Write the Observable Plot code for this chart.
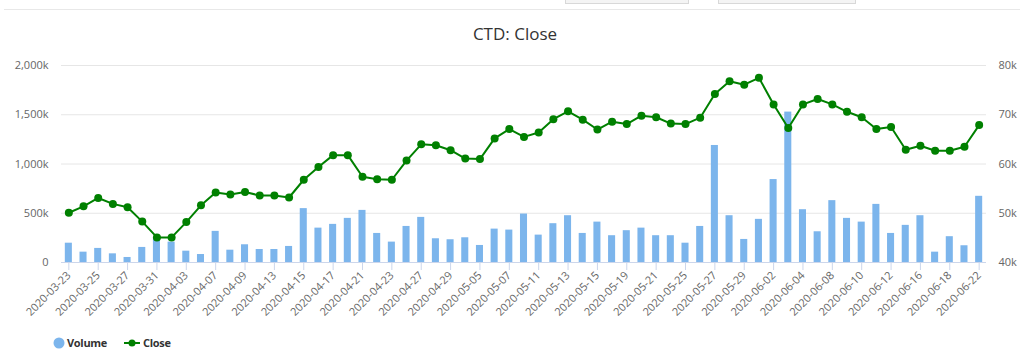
<!DOCTYPE html>
<html>
<head>
<meta charset="utf-8">
<script src="https://cdn.jsdelivr.net/npm/d3@7"></script>
<script src="https://cdn.jsdelivr.net/npm/@observablehq/plot@0.6"></script>
<style>
  html, body { margin: 0; padding: 0; background: #fff; }
  #wrap { position: relative; width: 1024px; height: 352px; overflow: hidden; font-family: "Open Sans", sans-serif; }
  #wrap > svg { position: absolute; left: 0; top: 0; }
  .topline { position: absolute; left: 4px; top: 9px; width: 1016px; height: 1px; background: #e8e8e8; }
  .btn { position: absolute; top: -2px; height: 4px; border: 1px solid #d8d8d8; background: #f4f4f4; }
  #title { position: absolute; left: 0; width: 1030px; top: 22px; text-align: center; font-size: 17px; color: #333; }
  .leg { position: absolute; top: 335px; font-size: 11px; font-weight: bold; color: #333; letter-spacing: -0.3px; line-height: 16px; }
  .legsym { position: absolute; left: 0; top: 335px; }
</style>
</head>
<body>
<div id="wrap">
  <div class="topline"></div>
  <div class="btn" style="left:565px;width:122px"></div>
  <div class="btn" style="left:718px;width:136px"></div>
  <div id="title">CTD: Close</div>
  <svg class="legsym" width="160" height="16" style="position:absolute;left:0;top:335px">
    <circle cx="59" cy="8" r="5.5" fill="#7cb5ec"/>
    <line x1="124" x2="140" y1="8" y2="8" stroke="#008000" stroke-width="2"/>
    <circle cx="132" cy="8" r="3.5" fill="#008000"/>
  </svg>
  <span class="leg" style="left:67px">Volume</span>
  <span class="leg" style="left:143px">Close</span>
</div>
<script>
const dates = [
  "2020-03-23","2020-03-24","2020-03-25","2020-03-26","2020-03-27","2020-03-30","2020-03-31",
  "2020-04-01","2020-04-03","2020-04-06","2020-04-07","2020-04-08","2020-04-09","2020-04-10",
  "2020-04-13","2020-04-14","2020-04-15","2020-04-16","2020-04-17","2020-04-20","2020-04-21",
  "2020-04-22","2020-04-23","2020-04-24","2020-04-27","2020-04-28","2020-04-29","2020-05-04",
  "2020-05-05","2020-05-06","2020-05-07","2020-05-08","2020-05-11","2020-05-12","2020-05-13",
  "2020-05-14","2020-05-15","2020-05-18","2020-05-19","2020-05-20","2020-05-21","2020-05-22",
  "2020-05-25","2020-05-26","2020-05-27","2020-05-28","2020-05-29","2020-06-01","2020-06-02",
  "2020-06-03","2020-06-04","2020-06-05","2020-06-08","2020-06-09","2020-06-10","2020-06-11",
  "2020-06-12","2020-06-15","2020-06-16","2020-06-17","2020-06-18","2020-06-19","2020-06-22"
];
const volume = [
  196000,105000,143000,88000,51000,153000,255000,207000,115000,81000,316000,125000,180000,132000,
  132000,163000,547000,349000,387000,448000,529000,295000,207000,366000,458000,241000,231000,251000,
  173000,339000,329000,492000,278000,394000,475000,295000,410000,272000,323000,349000,272000,272000,
  196000,366000,1188000,475000,234000,438000,842000,1527000,536000,312000,628000,448000,410000,590000,
  295000,377000,475000,105000,262000,170000,672000
];
const close = [
  50100,51400,53100,51900,51200,48300,45100,45100,48200,51600,54200,53800,54300,53600,
  53600,53200,56800,59400,61800,61800,57400,56900,56800,60700,64000,63800,62800,61100,
  61000,65200,67100,65500,66400,69100,70700,69000,67000,68600,68100,69800,69500,68200,
  68100,69400,74200,76800,76100,77500,72100,67300,72100,73200,72100,70600,69500,67100,
  67500,62900,63700,62700,62700,63500,67900
];
const xTickLabels = dates.filter((d, i) => i % 2 === 0);
const volumeTicks = [0, 500000, 1000000, 1500000, 2000000];
const closeTicks = [40000, 50000, 60000, 70000, 80000];

// map the secondary (Close) axis onto the primary (Volume) scale
const cMin = 40000, cMax = 80000, vMax = 2000000;
const toV = c => (c - cMin) / (cMax - cMin) * vMax;

const data = dates.map((d, i) => ({date: d, volume: volume[i], close: close[i], closeV: toV(close[i])}));
const closeTickMap = new Map(closeTicks.map(c => [toV(c), (c / 1000) + "k"]));

const chart = Plot.plot({
  width: 1024,
  height: 352,
  marginLeft: 61,
  marginRight: 38,
  marginTop: 65,
  marginBottom: 90,
  style: {fontFamily: "Open Sans, sans-serif", fontSize: "11px", color: "#666", background: "transparent"},
  x: {type: "band", domain: dates, paddingInner: 0.52, paddingOuter: 0.26},
  y: {domain: [0, vMax]},
  marks: [
    Plot.gridY(volumeTicks, {stroke: "#e6e6e6", strokeOpacity: 1}),
    Plot.barY(data, {x: "date", y: "volume", fill: "#7cb5ec"}),
    Plot.ruleY([0], {stroke: "#ccd6eb"}),
    Plot.axisX(xTickLabels, {tickRotate: -45, tickSize: 8, tickPadding: 3, stroke: "#ccd6eb", fill: "#666", fontSize: 11, label: null}),
    Plot.axisY(volumeTicks, {anchor: "left", tickSize: 0, tickPadding: 13, fill: "#666", fontSize: 11, label: null,
      tickFormat: v => v === 0 ? "0" : d3.format(",")(v / 1000) + "k"}),
    Plot.axisY(closeTicks.map(toV), {anchor: "right", tickSize: 0, tickPadding: 12, fill: "#666", fontSize: 11, label: null,
      tickFormat: v => closeTickMap.get(v)}),
    Plot.line(data, {x: "date", y: "closeV", stroke: "#008000", strokeWidth: 2}),
    Plot.dot(data, {x: "date", y: "closeV", r: 4, fill: "#008000"})
  ]
});
document.getElementById("wrap").insertBefore(chart, document.getElementById("wrap").firstChild);
</script>
</body>
</html>
